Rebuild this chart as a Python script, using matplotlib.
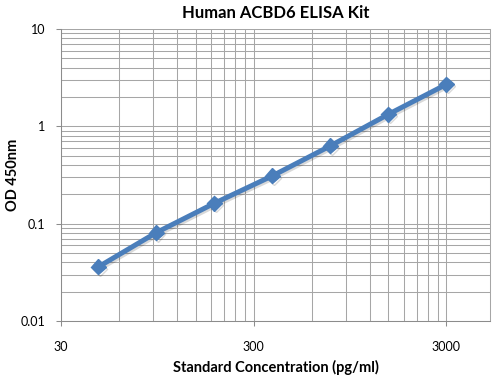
import matplotlib
matplotlib.use("Agg")
import matplotlib.pyplot as plt
import matplotlib.patheffects as pe
from matplotlib.ticker import FixedLocator, NullFormatter, FixedFormatter

concentration = [46.88, 93.75, 187.5, 375, 750, 1500, 3000]
od450 = [0.036, 0.081, 0.162, 0.31, 0.63, 1.33, 2.70]

x_ticks = [30, 300, 3000]
x_tick_labels = ["30", "300", "3000"]
y_ticks = [0.01, 0.1, 1, 10]
y_tick_labels = ["0.01", "0.1", "1", "10"]

plt.rcParams['font.family'] = ['Lato', 'DejaVu Sans']

fig = plt.figure(figsize=(5.04, 3.75), dpi=100)
ax = fig.add_axes([61/504, 1-321/375, (490-61)/504, (321-29)/375])

ax.set_xscale('log')
ax.set_yscale('log')
ax.set_xlim(30, 5050)
ax.set_ylim(0.01, 10)

grid_color = '#a6a6a6'
x_minor = [m * d for d in (30, 300) for m in range(2, 10)]
ax.xaxis.set_major_locator(FixedLocator(x_ticks))
ax.xaxis.set_major_formatter(FixedFormatter(x_tick_labels))
ax.xaxis.set_minor_locator(FixedLocator(x_minor))
ax.xaxis.set_minor_formatter(NullFormatter())
y_minor = [m * d for d in (0.01, 0.1, 1) for m in range(2, 10)]
ax.yaxis.set_major_locator(FixedLocator(y_ticks))
ax.yaxis.set_major_formatter(FixedFormatter(y_tick_labels))
ax.yaxis.set_minor_locator(FixedLocator(y_minor))
ax.yaxis.set_minor_formatter(NullFormatter())

ax.grid(True, which='both', color=grid_color, linewidth=0.75)
ax.set_axisbelow(True)

ax.spines['top'].set_visible(False)
for s in ['right', 'left', 'bottom']:
    ax.spines[s].set_color('#8c8c8c')
    ax.spines[s].set_linewidth(0.75)
ax.spines['right'].set_color(grid_color)
ax.tick_params(axis='both', which='major', length=3.5, width=0.75, color='#8c8c8c',
               labelsize=9, labelcolor='#000000')
ax.tick_params(axis='both', which='minor', length=0)
ax.tick_params(axis='x', which='major', pad=11)
ax.tick_params(axis='y', which='major', pad=8)

ax.plot(concentration, od450, color='#4a7ebb', linewidth=3.6, marker='D',
        markersize=7.5, solid_capstyle='round',
        path_effects=[pe.SimpleLineShadow(offset=(1.2, -1.2), alpha=0.15),
                      pe.Normal()])

ax.set_title("Human ACBD6 ELISA Kit", fontsize=12, fontweight='bold', pad=8)
ax.set_xlabel("Standard Concentration (pg/ml)", fontsize=10.5, fontweight='bold', labelpad=5)
ax.set_ylabel("OD 450nm", fontsize=10.5, fontweight='bold', va='center')
ax.yaxis.set_label_coords((13 - 61) / 429, 0.5)

fig.savefig("out.png", dpi=100)
